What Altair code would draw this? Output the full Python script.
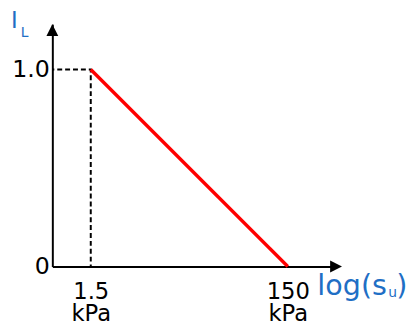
import altair as alt
import pandas as pd

# data
line_x = [1.5, 150]
line_y = [1.0, 0.0]
dash_x = [0.611, 1.5, 1.5]
dash_y = [1.0, 1.0, 0.0]
dash_order = [0, 1, 2]
x_ticks = [1.5, 150]
y_ticks = [0, 1]
x_domain = [0.611, 485.4]
y_domain = [0, 1.23]

FONT = "DejaVu Sans"
BLUE = "#1f6fc5"

line_df = pd.DataFrame({"x": line_x, "y": line_y})
dash_df = pd.DataFrame({"x": dash_x, "y": dash_y, "o": dash_order})

xs = alt.Scale(type="log", domain=x_domain, nice=False)
ys = alt.Scale(domain=y_domain, nice=False, zero=False)

xaxis = alt.Axis(
    values=x_ticks, ticks=False, grid=False, title=None,
    domainColor="black", domainWidth=2,
    labelExpr="[datum.value < 10 ? '1.5' : '150', 'kPa']",
    labelFont=FONT, labelFontSize=23, labelColor="black",
    labelPadding=14, labelLineHeight=23, labelFlush=False, labelOverlap=False,
)
yaxis = alt.Axis(
    values=y_ticks, ticks=False, grid=False, title=None,
    domainColor="black", domainWidth=2,
    labelExpr="datum.value == 1 ? '1.0' : '0\u2009'",
    labelFont=FONT, labelFontSize=24, labelColor="black",
    labelPadding=3, labelFlush=False, labelOverlap=False,
)

dash = alt.Chart(dash_df).mark_line(
    color="black", strokeWidth=2, strokeDash=[5, 3], strokeDashOffset=3
).encode(
    x=alt.X("x:Q", scale=xs, axis=xaxis),
    y=alt.Y("y:Q", scale=ys, axis=yaxis),
    order="o:Q",
)

red = alt.Chart(line_df).mark_line(color="#ff0000", strokeWidth=3.4).encode(
    x=alt.X("x:Q", scale=xs), y=alt.Y("y:Q", scale=ys)
)

arrow_up = alt.Chart(pd.DataFrame({"a": [0]})).mark_point(
    shape="M0,-1L1,1L-1,1Z", size=144, filled=True, color="black", opacity=1, strokeWidth=0
).encode(x=alt.value(0), y=alt.value(6))

arrow_right = alt.Chart(pd.DataFrame({"a": [0]})).mark_point(
    shape="M-1,-1L1,0L-1,1Z", size=144, filled=True, color="black", opacity=1, strokeWidth=0
).encode(x=alt.value(288), y=alt.value(246))

def txt(s, x, y, size):
    return alt.Chart(pd.DataFrame({"t": [s]})).mark_text(
        align="left", baseline="alphabetic", font=FONT, fontSize=size, color=BLUE
    ).encode(text="t:N", x=alt.value(x), y=alt.value(y))

labels = [
    txt("I", -42, 4, 23),
    txt("L", -32, 13, 14),
    txt("log(s", 269, 275, 29),
    txt("u", 341, 277, 14),
    txt(")", 349, 275, 29),
]

chart = alt.layer(dash, red, arrow_up, arrow_right, *labels).properties(
    width=290, height=246,
    autosize=alt.AutoSizeParams(type="none"),
    padding={"left": 45, "top": 14, "right": 70, "bottom": 57},
).configure_view(stroke=None)

chart.save("out.html", embed_options={"renderer": "svg", "actions": False})
